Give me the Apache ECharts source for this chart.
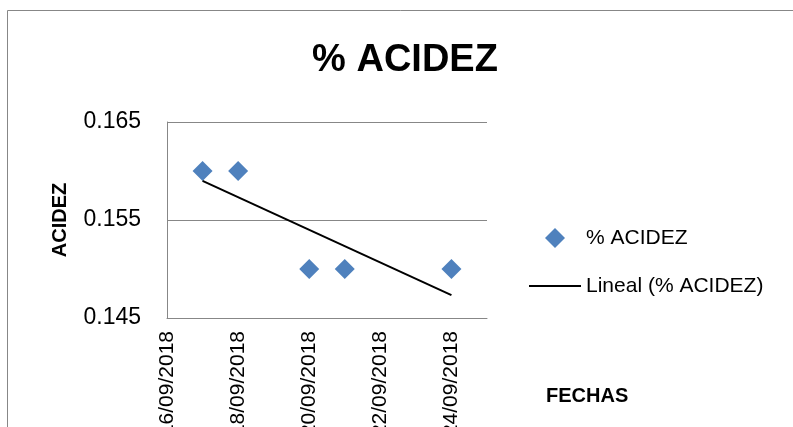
<!DOCTYPE html>
<html>
<head>
<meta charset="utf-8">
<script src="https://cdn.jsdelivr.net/npm/echarts@6/dist/echarts.min.js"></script>
<style>
html,body{margin:0;padding:0;background:#fff;}
#chart{width:793px;height:427px;}
</style>
</head>
<body>
<div id="chart"></div>
<script>
// Data
var dates = ['17/09/2018', '18/09/2018', '20/09/2018', '21/09/2018', '24/09/2018'];
var acidez = [0.16, 0.16, 0.15, 0.15, 0.15];
var xRange = ['16/09/2018', '25/09/2018'];
var yTicks = [0.145, 0.155, 0.165];

var titleText = '% ACIDEZ';
var seriesName = '% ACIDEZ';
var trendName = 'Lineal (% ACIDEZ)';
var yName = 'ACIDEZ';
var xName = 'FECHAS';

function toDay(s) {
  var p = s.split('/');
  return Date.UTC(+p[2], +p[1] - 1, +p[0]) / 86400000;
}
function fmtDay(d) {
  var dt = new Date(Math.round(d) * 86400000);
  var dd = String(dt.getUTCDate()).padStart(2, '0');
  var mm = String(dt.getUTCMonth() + 1).padStart(2, '0');
  return dd + '/' + mm + '/' + dt.getUTCFullYear();
}

var xs = dates.map(toDay);
var pts = xs.map(function (x, i) { return [x, acidez[i]]; });

// least-squares linear trendline (Excel "Lineal")
var n = xs.length, mx = 0, my = 0;
for (var i = 0; i < n; i++) { mx += xs[i]; my += acidez[i]; }
mx /= n; my /= n;
var sxy = 0, sxx = 0;
for (var i = 0; i < n; i++) { sxy += (xs[i] - mx) * (acidez[i] - my); sxx += (xs[i] - mx) * (xs[i] - mx); }
var slope = sxy / sxx, icpt = my - slope * mx;
var x0 = Math.min.apply(null, xs), x1 = Math.max.apply(null, xs);
var trend = [[x0, icpt + slope * x0], [x1, icpt + slope * x1]];

var FONT = 'Liberation Sans';
var legendText = {fontFamily: FONT, fontSize: 21, color: '#000', lineHeight: 22};
var chart = echarts.init(document.getElementById('chart'), null, {renderer: 'canvas'});
chart.setOption({
  animation: false,
  backgroundColor: '#fff',
  title: {
    text: titleText,
    left: 400, textAlign: 'center',
    top: 37,
    textStyle: {fontFamily: FONT, fontSize: 38, fontWeight: 'bold', color: '#000'}
  },
  graphic: [
    {type: 'polyline', shape: {points: [[7.5, 430], [7.5, 10.5], [800, 10.5]]},
     style: {stroke: '#878787', lineWidth: 1, fill: null}, silent: true},
    {type: 'text', left: 546, top: 386,
     style: {text: xName, fontFamily: FONT, fontSize: 20, fontWeight: 'bold', fill: '#000'}}
  ],
  legend: [
    {
      left: 545, top: 227, padding: 0,
      itemWidth: 20, itemHeight: 20,
      textStyle: Object.assign({padding: [0, 0, 0, 16]}, legendText),
      data: [{name: seriesName, icon: 'diamond'}]
    },
    {
      left: 529, top: 275, padding: 0,
      itemWidth: 52, itemHeight: 2,
      textStyle: legendText,
      data: [{name: trendName, icon: 'rect'}]
    }
  ],
  grid: {left: 167, right: 306, top: 122, bottom: 109, containLabel: false, outerBoundsMode: 'none'},
  xAxis: {
    type: 'value',
    min: toDay(xRange[0]), max: toDay(xRange[1]), interval: 2,
    axisLine: {show: true, lineStyle: {color: '#878787', width: 1}},
    axisTick: {show: false},
    splitLine: {show: false},
    axisLabel: {
      rotate: 90, margin: 13,
      fontFamily: FONT, fontSize: 21, color: '#000',
      formatter: function (v) { return fmtDay(v); },
      showMaxLabel: false
    }
  },
  yAxis: {
    type: 'value',
    min: yTicks[0], max: yTicks[yTicks.length - 1], interval: 0.01,
    name: yName, nameLocation: 'middle', nameRotate: 90, nameGap: 97,
    nameTextStyle: {fontFamily: FONT, fontSize: 20, fontWeight: 'bold', color: '#000'},
    axisLine: {show: true, lineStyle: {color: '#878787', width: 1}},
    axisTick: {show: false},
    splitLine: {show: true, lineStyle: {color: '#878787', width: 1}},
    axisLabel: {
      margin: 26, fontFamily: FONT, fontSize: 23, color: '#000',
      formatter: function (v) { return v.toFixed(3); }
    }
  },
  series: [
    {
      name: seriesName, type: 'scatter', data: pts,
      symbol: 'diamond', symbolSize: 20,
      itemStyle: {color: '#4F81BD', opacity: 1},
      z: 3
    },
    {
      name: trendName, type: 'line', data: trend,
      symbol: 'none', showSymbol: false,
      lineStyle: {color: '#000', width: 2},
      itemStyle: {color: '#000'},
      z: 4
    }
  ]
});
</script>
</body>
</html>
